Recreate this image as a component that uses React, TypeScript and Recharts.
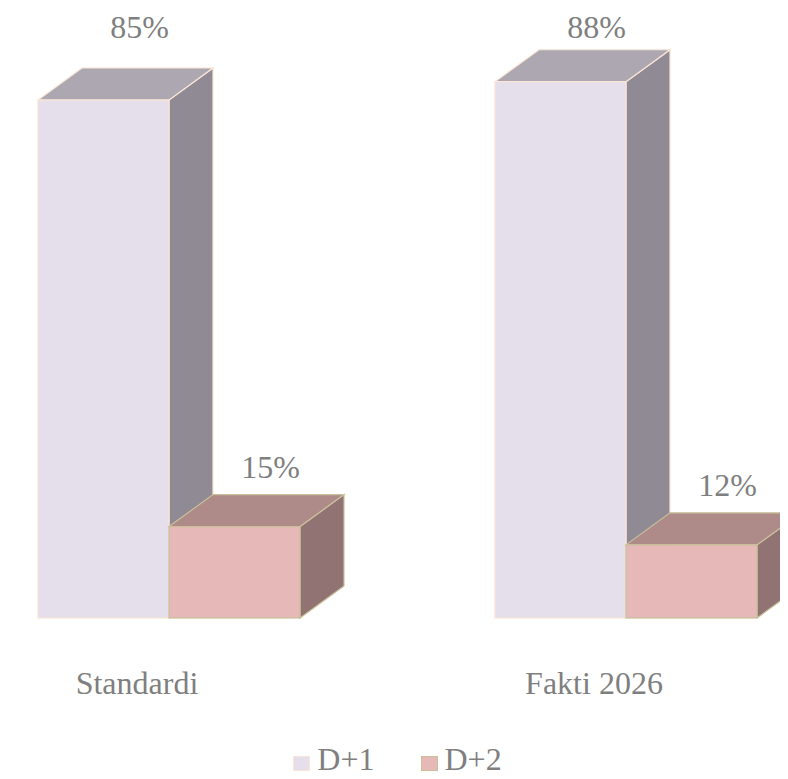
import React from 'react';
import { BarChart, Bar, XAxis, YAxis, Legend, LabelList } from 'recharts';

const categories = ['Standardi', 'Fakti 2026'];
const d1Values = [85, 88];
const d2Values = [15, 12];
const seriesNames = ['D+1', 'D+2'];

const data = categories.map((name, i) => ({ name, d1: d1Values[i], d2: d2Values[i] }));

const FONT = 'Times New Roman, Liberation Serif, DejaVu Serif, serif';
const TEXT = '#7f7f7f';
const DX = 44;
const DY = -32;

const palette = {
  d1: { front: '#e5dfec', top: '#aca7b1', side: '#8f8a94', stroke: '#fbe5d6' },
  d2: { front: '#e6b8b7', top: '#ae8a88', side: '#907372', stroke: '#c9c09a' },
};

function makeBox(c: typeof palette.d1) {
  return (props: any) => {
    const { x, y, width, height } = props;
    if (!height) return null;
    const top = `${x},${y} ${x + DX},${y + DY} ${x + width + DX},${y + DY} ${x + width},${y}`;
    const side = `${x + width},${y} ${x + width + DX},${y + DY} ${x + width + DX},${y + height + DY} ${x + width},${y + height}`;
    return (
      <g>
        <polygon points={side} fill={c.side} stroke={c.stroke} strokeWidth={1.2} />
        <polygon points={top} fill={c.top} stroke={c.stroke} strokeWidth={1.2} />
        <rect x={x} y={y} width={width} height={height} fill={c.front} stroke={c.stroke} strokeWidth={1.2} />
      </g>
    );
  };
}

const valueLabel = (props: any) => {
  const { x, y, width, value } = props;
  const cy = y - 60 < 60 ? 27 : y - 60;
  return (
    <text x={x + width / 2 + 36} y={cy + 11} textAnchor="middle" style={{ fontFamily: FONT }} fontSize={32} fill={TEXT}>
      {value}%
    </text>
  );
};

const CategoryTick = (props: any) => {
  const { x, y, payload } = props;
  return (
    <text x={x - 32} y={y + 76} textAnchor="middle" style={{ fontFamily: FONT }} fontSize={32} fill={TEXT}>
      {payload.value}
    </text>
  );
};

const LegendContent = () => (
  <div style={{ height: 44, display: 'flex', justifyContent: 'center', alignItems: 'flex-end', fontFamily: FONT, fontSize: 32, color: TEXT, lineHeight: '32px', paddingBottom: 4, boxSizing: 'border-box' }}>
    {[palette.d1, palette.d2].map((c, i) => (
      <div key={i} style={{ display: 'flex', alignItems: 'flex-end', marginLeft: i ? 46 : 0 }}>
        <span style={{ width: 15, height: 13, background: c.front, border: `1px solid ${c.stroke}`, marginRight: 7, marginBottom: 4 }} />
        <span>{seriesNames[i]}</span>
      </div>
    ))}
  </div>
);

export default function App() {
  return (
    <div style={{ position: 'relative', width: 780, height: 771, overflow: 'hidden' }}>
      <div style={{ position: 'absolute', left: -88, top: -8 }}>
        <BarChart
          width={1000}
          height={779}
          data={data}
          margin={{ top: 8.6, right: 65.5, bottom: 0, left: 20.5 }}
          barCategoryGap={97.5}
          barGap={0}
        >
          <XAxis dataKey="name" height={117} axisLine={false} tickLine={false} tickSize={0} tickMargin={0} tick={<CategoryTick />} interval={0} />
          <YAxis hide domain={[0, 100]} />
          <Legend verticalAlign="bottom" content={<LegendContent />} />
          <Bar dataKey="d1" name={seriesNames[0]} shape={makeBox(palette.d1)} isAnimationActive={false}>
            <LabelList dataKey="d1" content={valueLabel} />
          </Bar>
          <Bar dataKey="d2" name={seriesNames[1]} shape={makeBox(palette.d2)} isAnimationActive={false}>
            <LabelList dataKey="d2" content={valueLabel} />
          </Bar>
        </BarChart>
      </div>
    </div>
  );
}
